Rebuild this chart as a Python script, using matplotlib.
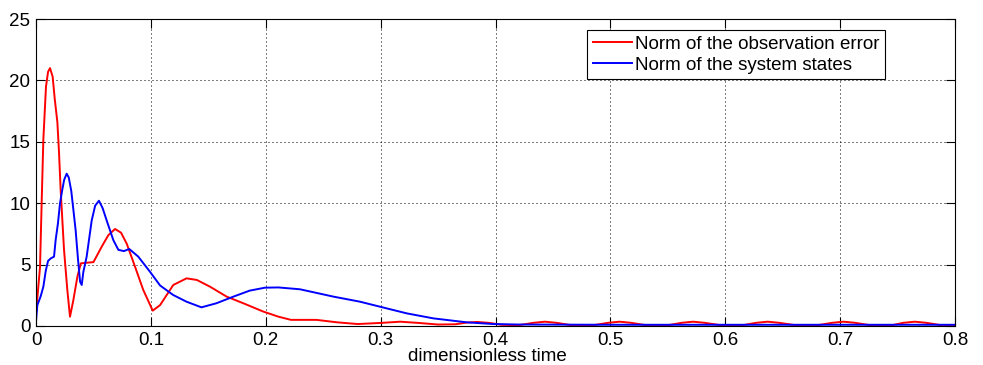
import matplotlib
matplotlib.use("Agg")
import matplotlib.pyplot as plt

# ===============================================================================
#       DATA
# ===============================================================================
err_t = [0.0, 0.0035, 0.005, 0.0064, 0.0087, 0.0105, 0.0122, 0.0145, 0.0163,
         0.0186, 0.0200, 0.0215, 0.0244, 0.0273, 0.0296, 0.0325, 0.036, 0.039,
         0.044, 0.050, 0.0572, 0.063, 0.0688, 0.074, 0.079, 0.0862, 0.0934,
         0.1016, 0.108, 0.1108, 0.1195, 0.131, 0.14, 0.1515, 0.166, 0.1805,
         0.198, 0.211, 0.222, 0.244, 0.262, 0.28, 0.30, 0.317, 0.333,
         0.35, 0.365, 0.375, 0.384, 0.395, 0.405, 0.42, 0.433, 0.443, 0.453,
         0.465, 0.485, 0.498, 0.508, 0.518, 0.53, 0.55, 0.562, 0.572, 0.582,
         0.595, 0.615, 0.627, 0.637, 0.647, 0.66, 0.68, 0.693, 0.703, 0.713,
         0.725, 0.745, 0.755, 0.765, 0.775, 0.787, 0.8]
err_v = [1.0, 4.8, 10.3, 15.2, 19.5, 20.7, 21.0, 20.3, 18.5,
         16.6, 14.2, 11.0, 6.2, 2.9, 0.76, 2.1, 4.0, 5.1,
         5.15, 5.2, 6.46, 7.4, 7.9, 7.6, 6.7, 4.83, 2.93,
         1.25, 1.7, 2.1, 3.34, 3.88, 3.75, 3.2, 2.39, 1.85,
         1.17, 0.76, 0.5, 0.5, 0.3, 0.16, 0.25, 0.35, 0.25,
         0.12, 0.14, 0.28, 0.33, 0.25, 0.1, 0.06, 0.26, 0.35, 0.26,
         0.08, 0.06, 0.26, 0.35, 0.26, 0.08, 0.06, 0.26, 0.35, 0.26,
         0.08, 0.06, 0.26, 0.35, 0.26, 0.08, 0.06, 0.26, 0.35, 0.26,
         0.08, 0.06, 0.26, 0.35, 0.26, 0.08, 0.06]

st_t = [0.0, 0.0012, 0.004, 0.0064, 0.0085, 0.0105, 0.0128, 0.0157, 0.0171,
        0.0191, 0.0209, 0.0229, 0.0245, 0.0267, 0.0285, 0.0307, 0.0325,
        0.0345, 0.0366, 0.0384, 0.0398, 0.0412, 0.0441, 0.0485, 0.0515,
        0.0548, 0.058, 0.0615, 0.0673, 0.0717, 0.0765, 0.0812, 0.089,
        0.0992, 0.108, 0.1195, 0.131, 0.144, 0.157, 0.1718, 0.186, 0.1993,
        0.211, 0.2298, 0.259, 0.282, 0.2995, 0.3227, 0.346, 0.3748, 0.398,
        0.42, 0.5, 0.6, 0.7, 0.8]
st_v = [0.4, 1.7, 2.4, 3.2, 4.5, 5.3, 5.5, 5.65, 7.0,
        8.36, 10.0, 11.1, 11.9, 12.4, 12.1, 11.0, 9.5,
        7.8, 5.4, 3.6, 3.34, 4.4, 5.65, 8.6, 9.8,
        10.2, 9.6, 8.6, 7.0, 6.2, 6.1, 6.27, 5.65,
        4.42, 3.3, 2.52, 1.98, 1.52, 1.85, 2.39, 2.88, 3.12,
        3.14, 2.99, 2.39, 1.98, 1.57, 1.03, 0.62, 0.3, 0.16,
        0.12, 0.1, 0.1, 0.1, 0.1]

X_TICKS = [0, 0.1, 0.2, 0.3, 0.4, 0.5, 0.6, 0.7, 0.8]
X_TICK_LABELS = ["0", "0.1", "0.2", "0.3", "0.4", "0.5", "0.6", "0.7", "0.8"]
Y_TICKS = [0, 5, 10, 15, 20, 25]

# ===============================================================================
#       PLOT
# ===============================================================================
FONT_SIZE = 13.5
plt.rcParams["font.family"] = ["Liberation Sans", "DejaVu Sans"]

fig = plt.figure(figsize=(9.83, 3.65), dpi=100)
ax = fig.add_axes([36 / 983, 1 - 326 / 365, (955 - 36) / 983, (326 - 19) / 365])

ax.plot(err_t, err_v, color="#ff0000", lw=1.4, label="Norm of the observation error")
ax.plot(st_t, st_v, color="#0000ff", lw=1.4, label="Norm of the system states")

ax.set_xlim(0, 0.8)
ax.set_ylim(0, 25)
ax.set_xticks(X_TICKS)
ax.set_xticklabels(X_TICK_LABELS)
ax.set_yticks(Y_TICKS)

ax.grid(True, color="black", lw=0.72, ls=(0, (1, 3)))
ax.tick_params(direction="in", length=6.5, width=0.8, top=True, right=True,
               labelsize=FONT_SIZE, colors="black", pad=4)
for sp in ax.spines.values():
    sp.set_linewidth(0.8)
    sp.set_color("black")

ax.set_xlabel("dimensionless time", fontsize=FONT_SIZE, labelpad=1)
ax.xaxis.set_label_coords((487 - 36) / 919, -0.0)
ax.xaxis.label.set_va("top")
ax.xaxis.label.set_y(0)
ax.xaxis.set_label_coords((487 - 36) / 919, -22 / 307)

leg = ax.legend(loc="upper right", bbox_to_anchor=(885 / 983, 1 - 30 / 365),
                bbox_transform=fig.transFigure, borderaxespad=0,
                fontsize=FONT_SIZE, fancybox=False, framealpha=1,
                edgecolor="black", handlelength=2.1, handletextpad=0.15,
                borderpad=0.3, labelspacing=0.2)
leg.get_frame().set_linewidth(0.8)

fig.savefig("out.png", dpi=100)
